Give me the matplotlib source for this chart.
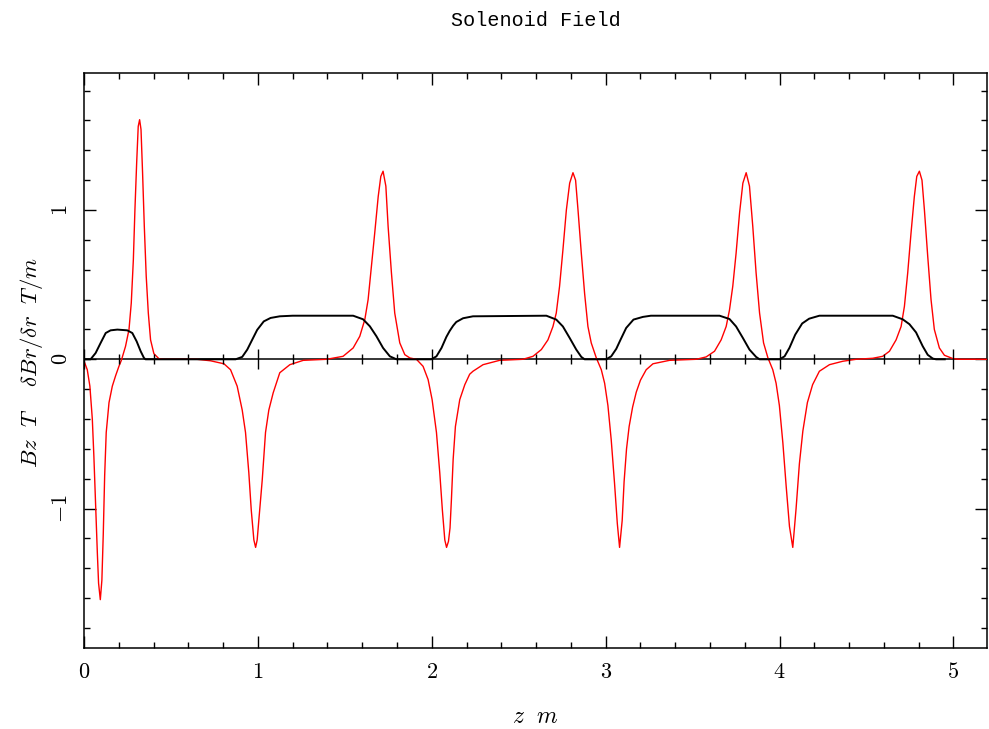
import matplotlib
matplotlib.use('Agg')
import matplotlib.pyplot as plt
from matplotlib.ticker import MultipleLocator, FuncFormatter

plt.rcParams['mathtext.fontset'] = 'cm'

# dBr/dr along the axis (T/m)
z_br = [0.0, 0.019, 0.034, 0.048, 0.057, 0.067, 0.077, 0.084, 0.094, 0.103,
        0.111, 0.119, 0.128, 0.144, 0.163, 0.182, 0.201, 0.215,
        0.239, 0.259, 0.272, 0.284, 0.293, 0.303, 0.312, 0.320, 0.328, 0.337,
        0.347, 0.358, 0.370, 0.383, 0.402, 0.431, 0.460,
        0.651, 0.728, 0.805, 0.843, 0.881, 0.910, 0.929, 0.948, 0.962, 0.977,
        0.987, 0.996, 1.006, 1.025, 1.044, 1.063, 1.088, 1.126, 1.184, 1.261,
        1.395, 1.490, 1.548, 1.586, 1.615, 1.634, 1.653, 1.672, 1.692, 1.707,
        1.720, 1.736, 1.749, 1.768, 1.787, 1.816, 1.845, 1.874, 1.912, 1.950,
        1.979, 2.002, 2.027, 2.046, 2.061, 2.075, 2.085, 2.096, 2.105, 2.113,
        2.123, 2.136, 2.161, 2.190, 2.218, 2.237, 2.295, 2.390, 2.524, 2.582,
        2.630, 2.668, 2.697, 2.716, 2.735, 2.754, 2.774, 2.793, 2.812, 2.827,
        2.841, 2.860, 2.879, 2.898, 2.917, 2.946, 2.975, 2.994, 3.013, 3.032,
        3.051, 3.067, 3.080, 3.095, 3.106, 3.120, 3.135, 3.155, 3.176, 3.200,
        3.233, 3.272, 3.367, 3.521, 3.578, 3.626, 3.664, 3.693, 3.712, 3.731,
        3.750, 3.770, 3.789, 3.808, 3.827, 3.846, 3.865, 3.885, 3.908, 3.933,
        3.961, 3.980, 3.999, 4.019, 4.038, 4.057, 4.076, 4.095, 4.114, 4.134,
        4.160, 4.190, 4.229, 4.287, 4.364, 4.440, 4.536, 4.593, 4.632, 4.670,
        4.699, 4.718, 4.737, 4.756, 4.775, 4.789, 4.804, 4.819, 4.833, 4.852,
        4.871, 4.890, 4.919, 4.948, 4.996, 5.034, 5.193]
br = [-0.01, -0.07, -0.18, -0.40, -0.65, -0.98, -1.30, -1.50, -1.61, -1.48,
      -1.17, -0.78, -0.49, -0.29, -0.18, -0.11, -0.047, -0.007,
      0.087, 0.20, 0.377, 0.667, 1.00, 1.315, 1.56, 1.605, 1.54, 1.25,
      0.89, 0.556, 0.31, 0.13, 0.038, 0.004, 0.0,
      0.0, -0.01, -0.03, -0.07, -0.18, -0.34, -0.49, -0.76, -1.01, -1.21,
      -1.26, -1.21, -1.07, -0.81, -0.49, -0.34, -0.225, -0.09, -0.036, -0.007,
      0.0, 0.02, 0.076, 0.154, 0.266, 0.40, 0.62, 0.846, 1.09, 1.225,
      1.26, 1.16, 0.89, 0.58, 0.31, 0.11, 0.031, 0.009, 0.0, -0.047,
      -0.136, -0.27, -0.49, -0.76, -1.01, -1.21, -1.26, -1.22, -1.13, -0.94,
      -0.67, -0.45, -0.27, -0.17, -0.10, -0.08, -0.036, -0.007, 0.0, 0.02,
      0.065, 0.13, 0.22, 0.31, 0.49, 0.73, 1.00, 1.18, 1.25, 1.20,
      1.00, 0.71, 0.44, 0.22, 0.11, 0.01, -0.07, -0.16, -0.31, -0.54,
      -0.83, -1.10, -1.26, -1.08, -0.82, -0.60, -0.45, -0.32, -0.22, -0.14,
      -0.07, -0.03, -0.007, 0.0, 0.016, 0.054, 0.13, 0.22, 0.33, 0.49,
      0.71, 0.98, 1.18, 1.25, 1.16, 0.89, 0.58, 0.31, 0.11, 0.01,
      -0.07, -0.16, -0.31, -0.56, -0.85, -1.12, -1.26, -1.00, -0.70, -0.48,
      -0.29, -0.17, -0.08, -0.036, -0.013, 0.0, 0.007, 0.02, 0.054, 0.13,
      0.22, 0.355, 0.58, 0.846, 1.09, 1.225, 1.26, 1.20, 1.00, 0.69,
      0.40, 0.20, 0.076, 0.027, 0.005, 0.0, 0.0]

# Bz on the axis (T)
z_bz = [0.0, 0.038, 0.067, 0.096, 0.125, 0.153, 0.192, 0.249, 0.278, 0.303,
        0.326, 0.345, 0.354,
        0.872, 0.910, 0.939, 0.967, 0.996, 1.034, 1.073, 1.126, 1.200, 1.548,
        1.605, 1.644, 1.682, 1.720, 1.759, 1.797,
        1.998, 2.027, 2.056, 2.084, 2.103, 2.123, 2.141, 2.180, 2.237, 2.659,
        2.716, 2.754, 2.793, 2.831, 2.860, 2.879,
        3.003, 3.032, 3.061, 3.085, 3.118, 3.160, 3.214, 3.260, 3.655,
        3.712, 3.750, 3.789, 3.827, 3.865, 3.885,
        4.000, 4.029, 4.057, 4.090, 4.130, 4.170, 4.229, 4.651,
        4.708, 4.747, 4.785, 4.823, 4.852, 4.881, 4.900, 4.950]
bz = [0.0, 0.0, 0.042, 0.11, 0.176, 0.194, 0.199, 0.194, 0.176, 0.12,
      0.054, 0.009, 0.0,
      0.0, 0.016, 0.065, 0.13, 0.197, 0.254, 0.277, 0.288, 0.292, 0.292,
      0.268, 0.221, 0.154, 0.076, 0.02, 0.0,
      0.0, 0.02, 0.076, 0.15, 0.19, 0.225, 0.25, 0.275, 0.288, 0.292,
      0.266, 0.22, 0.143, 0.065, 0.016, 0.0,
      0.0, 0.02, 0.07, 0.13, 0.21, 0.266, 0.284, 0.292, 0.292,
      0.27, 0.22, 0.143, 0.065, 0.016, 0.0,
      0.0, 0.02, 0.077, 0.165, 0.24, 0.272, 0.292, 0.292,
      0.268, 0.235, 0.18, 0.088, 0.03, 0.005, 0.0, 0.0]

x_range = (0, 5.193)
y_range = (-1.934, 1.920)

fig = plt.figure(figsize=(9.89, 7.29), dpi=100)
rect = [0.0849, 0.1111, 0.9131, 0.7892]
ax = fig.add_axes(rect)
ax.set_xlim(*x_range)
ax.set_ylim(*y_range)

ax.xaxis.set_major_locator(MultipleLocator(1))
ax.xaxis.set_minor_locator(MultipleLocator(0.2))
ax.yaxis.set_major_locator(MultipleLocator(1))
ax.yaxis.set_minor_locator(MultipleLocator(0.2))
fmt = FuncFormatter(lambda v, p: '$%d$' % round(v))
ax.xaxis.set_major_formatter(fmt)
ax.yaxis.set_major_formatter(fmt)

for s in ax.spines.values():
    s.set_linewidth(1.1)
ax.tick_params(which='both', direction='in', top=True, right=True, width=1.0,
               labelsize=16)
ax.tick_params(which='major', length=8.6)
ax.tick_params(which='minor', length=4.3)
ax.tick_params(axis='x', pad=10)
ax.tick_params(axis='y', pad=9, labelrotation=90)
for lab in ax.get_yticklabels():
    lab.set_va('center')

# zero axis drawn under the curves
ax.axhline(0, color='black', lw=1.1, zorder=1.5)

# second layer only for the ticks on the zero line
zax = fig.add_axes(rect, sharex=ax, sharey=ax)
zax.patch.set_visible(False)
for side in ['top', 'left', 'right']:
    zax.spines[side].set_visible(False)
zax.spines['bottom'].set_position(('data', 0))
zax.spines['bottom'].set_color('none')
zax.yaxis.set_visible(False)
zax.tick_params(axis='x', which='both', direction='inout', color='black',
                width=1.0, labelbottom=False, top=False)
zax.tick_params(axis='x', which='major', length=14.5)
zax.tick_params(axis='x', which='minor', length=6.5)

ax.plot(z_br, br, color='#ff0000', lw=1.0, zorder=3)
ax.plot(z_bz, bz, color='black', lw=1.4, zorder=4)

fig.text(0.542, 1 - 20 / 729, 'Solenoid Field', family='Liberation Mono',
         fontsize=14.5, ha='center', va='center')
fig.text(0.541, 1 - 716 / 729, r'$z\ \ m$', fontsize=17,
         ha='center', va='center')
fig.text(0.0319, 0.5034, r'$Bz\ \ T\ \ \ \ \delta Br/\delta r\ \ T/m$',
         fontsize=16.5, rotation=90, ha='center', va='center')

fig.savefig('out.png', dpi=100)
